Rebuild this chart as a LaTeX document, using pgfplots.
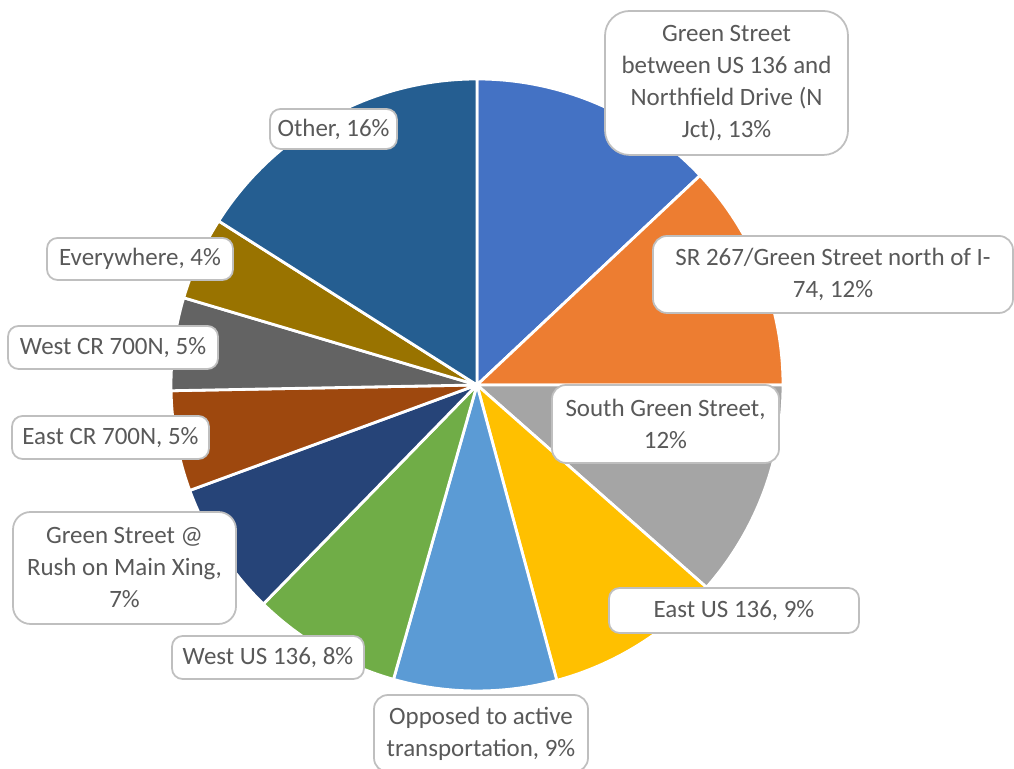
\documentclass[border=0pt]{standalone}
\usepackage{pgfplots}
\pgfplotsset{compat=1.18}
\usepackage{fontspec}
\setmainfont{Carlito}
\definecolor{c1}{HTML}{4472C4}
\definecolor{c2}{HTML}{ED7D31}
\definecolor{c3}{HTML}{A5A5A5}
\definecolor{c4}{HTML}{FFC000}
\definecolor{c5}{HTML}{5B9BD5}
\definecolor{c6}{HTML}{70AD47}
\definecolor{c7}{HTML}{264478}
\definecolor{c8}{HTML}{9E480E}
\definecolor{c9}{HTML}{636363}
\definecolor{c10}{HTML}{997300}
\definecolor{c11}{HTML}{255E91}
\definecolor{lbl}{HTML}{595959}
\definecolor{bord}{HTML}{BFBFBF}
% slice: cumulative share before, share, colour
\newcommand{\slice}[3]{%
  \fill[#3, draw=white, line width=0.8pt, line join=round]
    (axis cs:477,384) -- ++({90-3.6*(#1)}:3.06cm)
    arc[start angle={90-3.6*(#1)}, end angle={90-3.6*((#1)+(#2))}, radius=3.06cm] -- cycle;}
\tikzset{lab/.style={draw=bord, line width=0.5pt, fill=white, rounded corners=#1,
  align=center, text=lbl, font=\fontsize{7.1}{9.1}\selectfont, inner sep=0pt}}
\begin{document}
\begin{tikzpicture}
\useasboundingbox (0,0) rectangle (10.14cm,7.69cm);
\begin{axis}[at={(0,0)}, anchor=south west, scale only axis, width=10.14cm, height=7.69cm,
  xmin=0, xmax=1014, ymin=0, ymax=769, hide axis, clip=false]
% shares (percent), clockwise from 12 o'clock
\slice{0}{13}{c1}
\slice{13}{12}{c2}
\slice{25}{11.5}{c3}
\slice{36.5}{9.3}{c4}
\slice{45.8}{8.6}{c5}
\slice{54.4}{7.9}{c6}
\slice{62.3}{7.1}{c7}
\slice{69.4}{5.3}{c8}
\slice{74.7}{4.9}{c9}
\slice{79.6}{4.4}{c10}
\slice{84}{16}{c11}
\node[lab=7pt, minimum width=2.43cm, minimum height=1.44cm] at (axis cs:726.5,686) {Green Street\\between US 136 and\\Northfield Drive (N\\Jct), 13\%};
\node[lab=4pt, minimum width=3.60cm, minimum height=0.77cm] at (axis cs:833,494.5) {SR 267/Green Street north of I-\\74, 12\%};
\node[lab=4pt, minimum width=2.27cm, minimum height=0.78cm] at (axis cs:665.5,345) {South Green Street,\\12\%};
\node[lab=3pt, minimum width=2.50cm, minimum height=0.45cm] at (axis cs:734,158.5) {East US 136, 9\%};
\node[lab=4pt, minimum width=2.14cm, minimum height=0.77cm] at (axis cs:481,35.5) {Opposed to active\\transportation, 9\%};
\node[lab=3pt, minimum width=1.92cm, minimum height=0.43cm] at (axis cs:268,111.5) {West US 136, 8\%};
\node[lab=5pt, minimum width=2.23cm, minimum height=1.12cm] at (axis cs:124.5,201) {Green Street @\\Rush on Main Xing,\\7\%};
\node[lab=3pt, minimum width=1.97cm, minimum height=0.43cm] at (axis cs:110.5,331.5) {East CR 700N, 5\%};
\node[lab=3pt, minimum width=2.10cm, minimum height=0.43cm] at (axis cs:113,421.5) {West CR 700N, 5\%};
\node[lab=3pt, minimum width=1.86cm, minimum height=0.42cm] at (axis cs:140,510) {Everywhere, 4\%};
\node[lab=3pt, minimum width=1.27cm, minimum height=0.40cm] at (axis cs:333.5,640) {Other, 16\%};
\end{axis}
\end{tikzpicture}
\end{document}
